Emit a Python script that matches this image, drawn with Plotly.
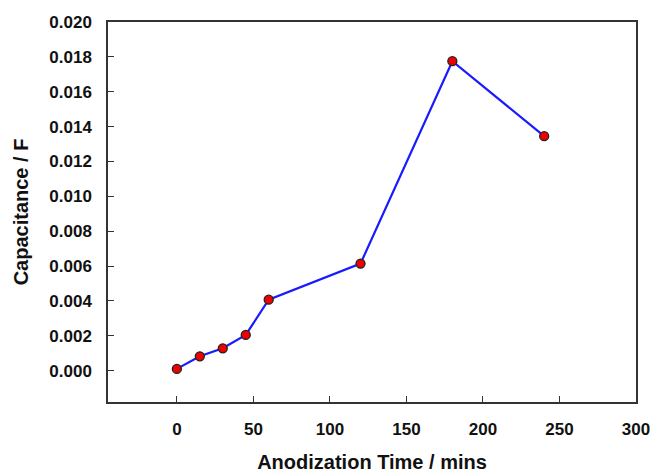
import plotly.graph_objects as go

time_mins = [0, 15, 30, 45, 60, 120, 180, 240]
capacitance_F = [0.0001, 0.00082, 0.00128, 0.00205, 0.00407, 0.00614, 0.01775, 0.01345]

x_ticks = [0, 50, 100, 150, 200, 250, 300]
y_ticks = [0.000, 0.002, 0.004, 0.006, 0.008, 0.010, 0.012, 0.014, 0.016, 0.018, 0.020]

fig = go.Figure()
fig.add_trace(go.Scatter(
    x=time_mins, y=capacitance_F, mode="lines+markers",
    line=dict(color="#1a1aff", width=2.2),
    marker=dict(color="#ee0000", size=9, line=dict(color="#222222", width=1.3)),
    showlegend=False,
))

font_family = "Liberation Sans, Arial, sans-serif"
fig.update_layout(
    width=655, height=473,
    margin=dict(l=108, r=19, t=22, b=71),
    plot_bgcolor="white", paper_bgcolor="white",
    font=dict(family=font_family, color="#111111"),
)
fig.update_xaxes(
    range=[-45, 300], tickvals=x_ticks, ticktext=[str(v) for v in x_ticks],
    ticks="inside", ticklen=6, tickwidth=1.3, tickcolor="#333333",
    showline=True, linecolor="#333333", linewidth=1.5, mirror=True,
    showgrid=False, zeroline=False, automargin=False,
    tickfont=dict(size=17, family=font_family, weight="bold"),
    ticklabelstandoff=11,
    title=dict(text="<b>Anodization Time / mins</b>", font=dict(size=20), standoff=19),
)
fig.update_yaxes(
    range=[-0.0018, 0.020], tickvals=y_ticks, ticktext=[f"{v:.3f}" for v in y_ticks],
    ticks="inside", ticklen=6, tickwidth=1.3, tickcolor="#333333",
    showline=True, linecolor="#333333", linewidth=1.5, mirror=True,
    showgrid=False, zeroline=False, automargin=False,
    tickfont=dict(size=17, family=font_family, weight="bold"),
    ticklabelstandoff=11,
    title=dict(text="<b>Capacitance / F</b>", font=dict(size=20), standoff=15),
)

fig.write_html("out.html")
